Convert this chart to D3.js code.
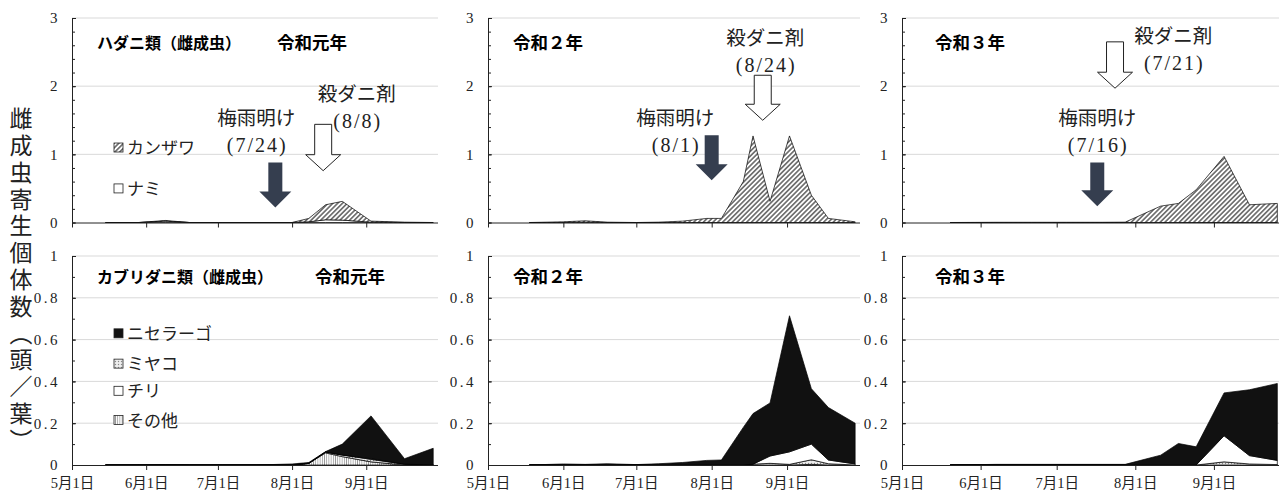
<!DOCTYPE html>
<html>
<head>
<meta charset="utf-8">
<script src="https://cdn.jsdelivr.net/npm/d3@7"></script>
<style>
  body { margin: 0; background: #fff; }
  svg { display: block; }
  text { font-family: "Noto Sans CJK JP", sans-serif; }
</style>
</head>
<body>
<div id="chart"></div>
<script>
// x tick labels (month starts)
const months = ["5月1日", "6月1日", "7月1日", "8月1日", "9月1日"];
const monthDates = ["05-01", "06-01", "07-01", "08-01", "09-01"];
const topTicks = ["0", "1", "2", "3"];
const botTicks = ["0", "0.2", "0.4", "0.6", "0.8", "1"];

// 令和元年
const datesR1   = ["05-15", "05-29", "06-09", "06-19", "07-03", "07-17", "08-01", "08-08", "08-15", "08-22", "09-03", "09-17", "09-29"];
const namiR1    = [0, 0, 0.02, 0, 0, 0, 0, 0.01, 0.04, 0.035, 0.005, 0, 0];
const kanzawaR1 = [0, 0, 0.01, 0, 0, 0, 0, 0.05, 0.22, 0.275, 0.015, 0.005, 0];
const sonotaR1  = [0, 0, 0, 0, 0, 0, 0, 0.008, 0.058, 0.04, 0.015, 0, 0];
const miyakoR1  = [0, 0, 0, 0, 0, 0, 0, 0, 0.004, 0.008, 0.012, 0.004, 0];
const chiriR1   = [0, 0, 0, 0, 0, 0, 0, 0, 0, 0, 0.003, 0, 0];
const niseR1    = [0, 0, 0.002, 0, 0, 0, 0.005, 0.004, 0.002, 0.052, 0.205, 0.026, 0.08];

// 令和２年
const datesR2   = ["05-18", "06-01", "06-10", "06-19", "07-01", "07-10", "07-20", "07-30", "08-05", "08-14", "08-18", "08-25", "09-02", "09-11", "09-18", "09-29"];
const namiR2    = [0, 0, 0.005, 0, 0, 0, 0, 0, 0, 0, 0, 0, 0, 0, 0, 0];
const kanzawaR2 = [0, 0.01, 0.02, 0.005, 0, 0.005, 0.02, 0.06, 0.06, 0.6, 1.27, 0.31, 1.27, 0.4, 0.06, 0.01];
const sonotaR2  = [0, 0, 0, 0, 0, 0, 0, 0, 0, 0, 0, 0, 0, 0.003, 0, 0];
const miyakoR2  = [0, 0, 0, 0, 0, 0, 0, 0, 0, 0, 0.004, 0.008, 0.003, 0.022, 0.006, 0];
const chiriR2   = [0, 0, 0, 0, 0, 0, 0, 0, 0, 0, 0, 0.035, 0.06, 0.075, 0.018, 0.005];
const niseR2    = [0, 0.005, 0.003, 0.006, 0.002, 0.006, 0.012, 0.022, 0.024, 0.18, 0.242, 0.254, 0.651, 0.265, 0.251, 0.195];

// 令和３年
const datesR3   = ["05-20", "06-07", "06-21", "07-05", "07-19", "07-28", "08-11", "08-18", "08-25", "09-05", "09-15", "09-26"];
const namiR3    = [0, 0, 0, 0, 0, 0, 0, 0, 0, 0, 0, 0];
const kanzawaR3 = [0, 0.003, 0.003, 0.003, 0.003, 0.005, 0.24, 0.28, 0.48, 0.97, 0.26, 0.28];
const sonotaR3  = [0, 0, 0, 0, 0, 0, 0, 0, 0, 0, 0, 0];
const miyakoR3  = [0, 0, 0, 0, 0, 0, 0, 0, 0, 0.015, 0.005, 0.002];
const chiriR3   = [0, 0, 0, 0, 0, 0, 0, 0, 0, 0.125, 0.04, 0.02];
const niseR3    = [0, 0.003, 0.003, 0.003, 0.003, 0.003, 0.047, 0.103, 0.087, 0.205, 0.315, 0.368];

const yearTitles = ["令和元年", "令和２年", "令和３年"];
const rainDates  = ["(7/24)", "(8/1)", "(7/16)"];
const sprayDates = ["(8/8)", "(8/24)", "(7/21)"];

const width = 1279, height = 492;
const parse = s => d3.timeParse("%Y-%m-%d")("2021-" + s);
const serif = "'Liberation Serif', 'Noto Sans CJK JP', serif";

const svg = d3.select("#chart").append("svg")
  .attr("width", width)
  .attr("height", height);

// fill patterns
const defs = svg.append("defs");
const hatch = defs.append("pattern").attr("id", "hatch")
  .attr("patternUnits", "userSpaceOnUse").attr("width", 3.4).attr("height", 3.4)
  .attr("patternTransform", "rotate(45)");
hatch.append("rect").attr("width", 3.4).attr("height", 3.4).attr("fill", "#fff");
hatch.append("line").attr("x1", 1.7).attr("x2", 1.7).attr("y1", 0).attr("y2", 3.4)
  .attr("stroke", "#222").attr("stroke-width", 1.1);

const vlines = defs.append("pattern").attr("id", "vlines")
  .attr("patternUnits", "userSpaceOnUse").attr("width", 2.2).attr("height", 4);
vlines.append("rect").attr("width", 2.2).attr("height", 4).attr("fill", "#fff");
vlines.append("line").attr("x1", 1.1).attr("x2", 1.1).attr("y1", 0).attr("y2", 4)
  .attr("stroke", "#999").attr("stroke-width", 0.8);

const dots = defs.append("pattern").attr("id", "dots")
  .attr("patternUnits", "userSpaceOnUse").attr("width", 3).attr("height", 3);
dots.append("rect").attr("width", 3).attr("height", 3).attr("fill", "#eee");
dots.append("circle").attr("cx", 1.5).attr("cy", 1.5).attr("r", 0.7).attr("fill", "#888");

const years = [
  { dates: datesR1, nami: namiR1, kanzawa: kanzawaR1, sonota: sonotaR1, miyako: miyakoR1, chiri: chiriR1, nise: niseR1 },
  { dates: datesR2, nami: namiR2, kanzawa: kanzawaR2, sonota: sonotaR2, miyako: miyakoR2, chiri: chiriR2, nise: niseR2 },
  { dates: datesR3, nami: namiR3, kanzawa: kanzawaR3, sonota: sonotaR3, miyako: miyakoR3, chiri: chiriR3, nise: niseR3 }
];

// panel frames
const colX = [[72, 438], [488, 860], [902, 1290]];
const topY = [222.5, 18], botY = [465, 256];

const topKeys = ["nami", "kanzawa"];
const topFill = { nami: "#fff", kanzawa: "url(#hatch)" };
const botKeys = ["sonota", "miyako", "chiri", "nise"];
const botFill = { sonota: "url(#vlines)", miyako: "url(#dots)", chiri: "#fff", nise: "#111" };

// annotation placement (arrow dates/values in data units)
const arrows = [
  { rain: "07-25", rainV: [0.88, 0.22], rainLab: "07-17", rainLabV: 1.43,
    spray: "08-14", sprayV: [1.44, 0.76], sprayLab: "08-28", sprayLabV: 1.78 },
  { rain: "08-01", rainV: [1.28, 0.62], rainLab: "07-17", rainLabV: 1.43,
    spray: "08-22", sprayV: [2.16, 1.5], sprayLab: "08-23", sprayLabV: 2.6 },
  { rain: "07-17", rainV: [0.88, 0.24], rainLab: "07-17", rainLabV: 1.43,
    spray: "07-24", sprayV: [2.65, 1.97], sprayLab: "08-16", sprayLabV: 2.63 }
];

function arrowPath(cx, yTop, yTip, shaft, head, headH) {
  const s = shaft / 2, h = head / 2, yb = yTip - headH;
  return `M${cx - s},${yTop}H${cx + s}V${yb}H${cx + h}L${cx},${yTip}L${cx - h},${yb}H${cx + s - shaft}Z`;
}

function drawPanel(yr, row) {
  const d = years[yr];
  const x = d3.scaleTime().domain([parse("05-01"), parse("10-01")]).range(colX[yr]);
  const yMax = row === 0 ? 3 : 1;
  const y = d3.scaleLinear().domain([0, yMax]).range(row === 0 ? topY : botY);
  const ticks = (row === 0 ? topTicks : botTicks).map(Number);
  const minor = d3.range(0, yMax + 1e-9, row === 0 ? 0.2 : 0.1);
  const g = svg.append("g");

  // gridlines
  g.selectAll(".grid").data(ticks.filter(t => t > 0)).enter().append("line")
    .attr("x1", colX[yr][0]).attr("x2", Math.min(colX[yr][1], width))
    .attr("y1", t => y(t)).attr("y2", t => y(t))
    .attr("stroke", "#d9d9d9").attr("stroke-width", 1);

  // stacked areas
  const keys = row === 0 ? topKeys : botKeys;
  const fills = row === 0 ? topFill : botFill;
  const rows = d.dates.map((s, i) => {
    const r = { date: parse(s) };
    keys.forEach(k => r[k] = d[k][i]);
    return r;
  });
  const series = d3.stack().keys(keys)(rows);
  const area = d3.area()
    .x(p => x(p.data.date))
    .y0(p => y(p[0]))
    .y1(p => y(p[1]));
  g.selectAll(".area").data(series).enter().append("path")
    .attr("d", area)
    .attr("fill", s => fills[s.key])
    .attr("stroke", "#000")
    .attr("stroke-width", 0.7)
    .attr("stroke-linejoin", "round");

  // x axis
  const xAxis = g.append("g")
    .attr("transform", `translate(0,${y(0)})`)
    .call(d3.axisBottom(x).tickValues(monthDates.map(parse)).tickSize(5)
      .tickFormat((t, i) => row === 1 ? months[i] : ""));
  xAxis.select(".domain").attr("d", `M${colX[yr][0]},0.5H${colX[yr][1]}`).attr("stroke", "#222");
  xAxis.selectAll("line").attr("stroke", "#222");
  xAxis.selectAll("text")
    .attr("y", 13)
    .attr("font-size", 14.5)
    .style("font-family", serif)
    .attr("fill", "#222");

  // y axis
  g.append("g")
    .attr("transform", `translate(${colX[yr][0]},0)`)
    .call(d3.axisLeft(y).tickValues(minor).tickSize(-3).tickFormat(""))
    .call(a => a.select(".domain").remove())
    .selectAll("line").attr("stroke", "#222");
  const yAxis = g.append("g")
    .attr("transform", `translate(${colX[yr][0]},0)`)
    .call(d3.axisLeft(y).tickValues(ticks).tickSize(-4).tickPadding(12)
      .tickFormat((t, i) => (row === 0 ? topTicks : botTicks)[i]));
  yAxis.select(".domain").attr("d", `M0.5,${y(0)}V${y(yMax)}`).attr("stroke", "#222");
  yAxis.selectAll("line").attr("stroke", "#222");
  yAxis.selectAll("text")
    .attr("font-size", 15)
    .attr("letter-spacing", 2.5)
    .style("font-family", serif)
    .attr("fill", "#222");

  // titles
  const tx = colX[yr][0] + 25;
  const ty = row === 0 ? y(2.55) : y(0.87);
  if (yr === 0) {
    g.append("text").attr("x", tx).attr("y", ty).attr("font-size", 16).attr("font-weight", 700)
      .text(row === 0 ? "ハダニ類（雌成虫）" : "カブリダニ類（雌成虫）");
    g.append("text").attr("x", row === 0 ? 277 : 315).attr("y", ty).attr("font-size", 17.5).attr("font-weight", 700)
      .text(yearTitles[yr]);
  } else {
    g.append("text").attr("x", tx + (yr === 2 ? 8 : 0)).attr("y", ty).attr("font-size", 17.5).attr("font-weight", 700)
      .text(yearTitles[yr]);
  }

  // arrows and labels (top row only)
  if (row === 0) {
    const a = arrows[yr];
    g.append("path")
      .attr("d", arrowPath(x(parse(a.rain)), y(a.rainV[0]), y(a.rainV[1]), 14, 32, 16))
      .attr("fill", "#353e4f");
    g.append("path")
      .attr("d", arrowPath(x(parse(a.spray)), y(a.sprayV[0]), y(a.sprayV[1]), 17, 35, 16))
      .attr("fill", "#fff").attr("stroke", "#222").attr("stroke-width", 1);
    const lab = (date, v, l1, l2) => {
      g.append("text").attr("x", x(parse(date))).attr("y", y(v))
        .attr("text-anchor", "middle").attr("font-size", 19.5).attr("fill", "#222").text(l1);
      g.append("text").attr("x", x(parse(date)) + 1).attr("y", y(v) + 27)
        .attr("text-anchor", "middle").attr("font-size", 20).attr("letter-spacing", 2)
        .style("font-family", serif).attr("fill", "#222").text(l2);
    };
    lab(a.rainLab, a.rainLabV, "梅雨明け", rainDates[yr]);
    lab(a.sprayLab, a.sprayLabV, "殺ダニ剤", sprayDates[yr]);
  }

  return { x, y };
}

const frames = [];
for (let yr = 0; yr < 3; yr++) frames.push([drawPanel(yr, 0), drawPanel(yr, 1)]);

// legends (first column)
const legTop = [["カンザワ", "url(#hatch)", 1.1], ["ナミ", "#fff", 0.5]];
const legBot = [["ニセラーゴ", "#111", 0.63], ["ミヤコ", "url(#dots)", 0.485], ["チリ", "#fff", 0.355], ["その他", "url(#vlines)", 0.215]];
function legend(items, y) {
  items.forEach(([name, fill, v]) => {
    const cy = y(v);
    svg.append("rect").attr("x", 114).attr("y", cy - 4.5).attr("width", 9).attr("height", 9)
      .attr("fill", fill).attr("stroke", "#222").attr("stroke-width", 0.8);
    svg.append("text").attr("x", 127).attr("y", cy + 6.5).attr("font-size", 17).attr("fill", "#222").text(name);
  });
}
legend(legTop, frames[0][0].y);
legend(legBot, frames[0][1].y);

// y axis title
svg.append("text")
  .attr("x", 21).attr("y", 107)
  .attr("font-size", 23)
  .attr("letter-spacing", 3.8)
  .attr("fill", "#222")
  .style("writing-mode", "vertical-rl")
  .text("雌成虫寄生個体数（頭／葉）");
</script>
</body>
</html>
